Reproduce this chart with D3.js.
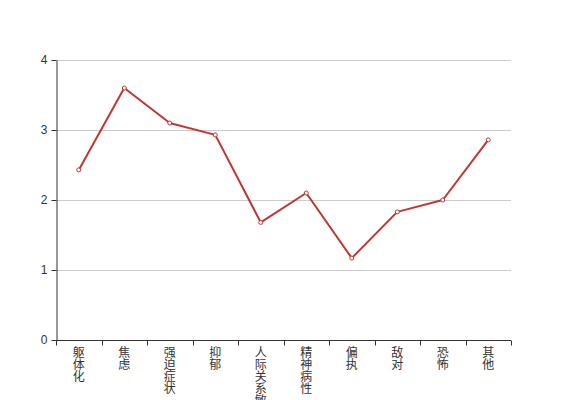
<!DOCTYPE html>
<html><head><meta charset="utf-8">
<script src="https://cdn.jsdelivr.net/npm/d3@7"></script>
<style>body{margin:0;background:#fff}svg{display:block}text{font-family:"Noto Sans CJK SC","Noto Sans",sans-serif}</style>
</head><body><svg id="c" width="567" height="400"></svg>
<script>
const categories = ["躯体化","焦虑","强迫症状","抑郁","人际关系敏感","精神病性","偏执","敌对","恐怖","其他"];
const values = [2.43, 3.6, 3.1, 2.93, 1.68, 2.1, 1.17, 1.83, 2.0, 2.86];
const yTicks = [0, 1, 2, 3, 4];

const svg = d3.select("#c");
const m = {l: 56, r: 511, t: 60, b: 340};
const x = d3.scaleBand().domain(categories).range([m.l, m.r]).paddingInner(0).paddingOuter(0);
const y = d3.scaleLinear().domain([0, 4]).range([m.b, m.t]);

// grid
svg.append("g").selectAll("line").data(yTicks.filter(d => d > 0)).join("line")
  .attr("x1", m.l).attr("x2", m.r).attr("y1", d => y(d) + 0.5).attr("y2", d => y(d) + 0.5)
  .attr("stroke", "#ccc").attr("stroke-width", 1);

// y axis
const ya = svg.append("g").attr("transform", `translate(${m.l + 0.5},0)`)
  .call(d3.axisLeft(y).tickValues(yTicks).tickFormat(d3.format("d")).tickSize(5).tickSizeOuter(0).tickPadding(4));
ya.select(".domain").attr("stroke", "#333");
ya.selectAll(".tick line").attr("stroke", "#333");
ya.selectAll(".tick text").attr("fill", "#333").style("font-size", "12px").style("font-family", "sans-serif");

// x axis
const xa = svg.append("g").attr("transform", `translate(0,${m.b + 0.5})`);
xa.append("line").attr("x1", m.l).attr("x2", m.r).attr("stroke", "#333");
const bounds = categories.map(c => x(c)).concat([m.r]);
xa.selectAll("line.tk").data(bounds).join("line").attr("class", "tk")
  .attr("x1", d => Math.round(d) + 0.5).attr("x2", d => Math.round(d) + 0.5)
  .attr("y1", 0).attr("y2", 5).attr("stroke", "#333");
xa.selectAll("text").data(categories).join("text")
  .attr("x", d => x(d) + x.bandwidth() / 2)
  .attr("y", 6)
  .attr("writing-mode", "tb")
  .style("writing-mode", "vertical-rl")
  .attr("fill", "#333")
  .style("font-size", "12px")
  .text(d => d);

// line
const line = d3.line().x((d, i) => x(categories[i]) + x.bandwidth() / 2).y(d => y(d));
svg.append("path").datum(values).attr("d", line)
  .attr("fill", "none").attr("stroke", "#c23531").attr("stroke-width", 2).attr("stroke-linejoin", "round");
svg.append("g").selectAll("circle").data(values).join("circle")
  .attr("cx", (d, i) => x(categories[i]) + x.bandwidth() / 2).attr("cy", d => y(d))
  .attr("r", 2).attr("fill", "#fff").attr("stroke", "#c23531").attr("stroke-width", 1);
</script></body></html>
